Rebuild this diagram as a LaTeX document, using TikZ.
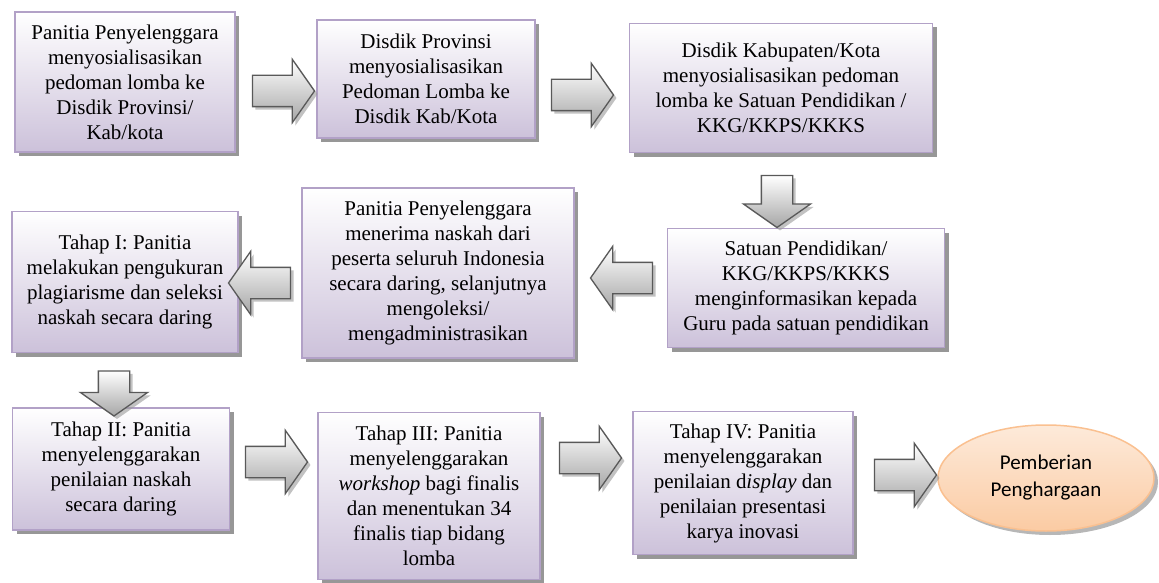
\documentclass[tikz,border=0pt]{standalone}
\usepackage{fontspec}
\setmainfont{Liberation Serif}
\newfontfamily\calibri{Carlito}
\usetikzlibrary{shapes.arrows,shapes.geometric,shadows}
\definecolor{boxline}{HTML}{B2A1C7}
\definecolor{boxfill}{HTML}{CCC1DA}
\definecolor{arrline}{HTML}{595959}
\definecolor{ovalline}{HTML}{FAC090}
\definecolor{ovaltop}{HTML}{FDEADA}
\definecolor{ovalbottom}{HTML}{FBCBA3}

\begin{document}
\begin{tikzpicture}[x=1pt, y=-1pt,
        box/.style={rectangle, draw=boxline, line width=1.5pt, top color=white, bottom color=boxfill,
            align=center, inner sep=2pt, font=\fontsize{21}{25}\selectfont,
            drop shadow={shadow xshift=4pt, shadow yshift=-4pt, fill=black!45, opacity=.9}},
        blockarrow/.style={single arrow, draw=arrline, line width=1.3pt, top color=white, bottom color=black!35,
            inner xsep=0pt, inner ysep=15pt, single arrow head extend=16pt, single arrow tip angle=110,
            minimum height=62pt, minimum width=0pt,
            drop shadow={shadow xshift=3pt, shadow yshift=-3pt, fill=black!40, opacity=.6}},
        downarrow/.style={blockarrow, shape border rotate=270, inner xsep=15pt, inner ysep=0pt,
            single arrow head extend=18pt},
        oval/.style={ellipse, draw=ovalline, line width=1.5pt, top color=ovaltop, bottom color=ovalbottom,
            align=center, inner sep=0pt, font=\calibri\fontsize{21}{27}\selectfont,
            drop shadow={shadow xshift=4pt, shadow yshift=-4pt, fill=black!40, opacity=.7}},
        ]
        \useasboundingbox (0,0) rectangle (1159,583);

        % first row
        \node (panitia) at (125,82) [box, minimum width=220pt, minimum height=140pt]
            {Panitia Penyelenggara\\menyosialisasikan\\pedoman lomba ke\\Disdik Provinsi/\\Kab/kota};
        \node (provinsi) at (426,79) [box, minimum width=218pt, minimum height=118pt]
            {Disdik Provinsi\\menyosialisasikan\\Pedoman Lomba ke\\Disdik Kab/Kota};
        \node (kabkota) at (781,88) [box, minimum width=303pt, minimum height=129pt]
            {Disdik Kabupaten/Kota\\menyosialisasikan pedoman\\lomba ke Satuan Pendidikan /\\KKG/KKPS/KKKS};

        % second row
        \node (satuan) at (806,288) [box, minimum width=277pt, minimum height=119pt]
            {Satuan Pendidikan/\\KKG/KKPS/KKKS\\menginformasikan kepada\\Guru pada satuan pendidikan};
        \node (naskah) at (438,273) [box, minimum width=272pt, minimum height=170pt]
            {Panitia Penyelenggara\\menerima naskah dari\\peserta seluruh Indonesia\\secara daring, selanjutnya\\mengoleksi/\\mengadministrasikan};
        \node (tahapsatu) at (125,282) [box, minimum width=226pt, minimum height=141pt]
            {Tahap I: Panitia\\melakukan pengukuran\\plagiarisme dan seleksi\\naskah secara daring};

        % third row
        \node (tahapdua) at (121,469) [box, minimum width=217pt, minimum height=122pt]
            {Tahap II: Panitia\\menyelenggarakan\\penilaian naskah\\secara daring};
        \node (tahaptiga) at (429,496) [box, minimum width=222pt, minimum height=167pt]
            {Tahap III: Panitia\\menyelenggarakan\\\textit{workshop} bagi finalis\\dan menentukan 34\\finalis tiap bidang\\lomba};
        \node (tahapempat) at (743,483) [box, minimum width=220pt, minimum height=143pt]
            {Tahap IV: Panitia\\menyelenggarakan\\penilaian d\textit{isplay} dan\\penilaian presentasi\\karya inovasi};
        \node (penghargaan) at (1046,478) [oval, minimum width=216pt, minimum height=106pt]
            {Pemberian\\Penghargaan};

        % block arrows between the steps
        \node (panitiaprov) at (278,91) [blockarrow] {};
        \node (provkab) at (577,95) [blockarrow] {};
        \node (kabsatuan) at (777,196) [downarrow, minimum height=52pt] {};
        \node (satuannaskah) at (627,278) [blockarrow, shape border rotate=180] {};
        \node (naskahsatu) at (265,283) [blockarrow, shape border rotate=180] {};
        \node (satudua) at (114,388) [downarrow, minimum height=45pt] {};
        \node (duatiga) at (271,462) [blockarrow] {};
        \node (tigaempat) at (585,458) [blockarrow] {};
        \node (empatakhir) at (900,475) [blockarrow] {};

    \end{tikzpicture}
\end{document}
